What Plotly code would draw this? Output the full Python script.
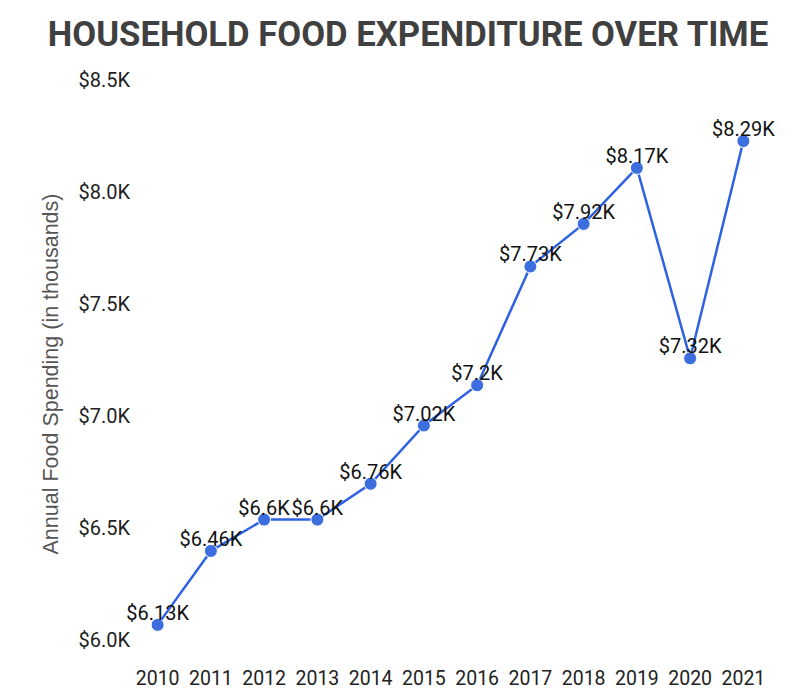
import plotly.graph_objects as go

years = [2010, 2011, 2012, 2013, 2014, 2015, 2016, 2017, 2018, 2019, 2020, 2021]
spending_k = [6.13, 6.46, 6.6, 6.6, 6.76, 7.02, 7.2, 7.73, 7.92, 8.17, 7.32, 8.29]
point_labels = ["$6.13K", "$6.46K", "$6.6K", "$6.6K", "$6.76K", "$7.02K", "$7.2K",
                "$7.73K", "$7.92K", "$8.17K", "$7.32K", "$8.29K"]
y_ticks = [6.0, 6.5, 7.0, 7.5, 8.0, 8.5]
y_tick_labels = ["$6.0K", "$6.5K", "$7.0K", "$7.5K", "$8.0K", "$8.5K"]

fig = go.Figure()
fig.add_trace(go.Scatter(
    x=years, y=spending_k, mode="lines+markers",
    line=dict(color="#2f62e3", width=2.5),
    marker=dict(color="#3d6ee0", size=13, line=dict(color="white", width=1)),
    cliponaxis=False, hoverinfo="skip",
))
fig.add_trace(go.Scatter(
    x=years, y=spending_k, mode="text",
    text=point_labels, textposition="top center",
    textfont=dict(family="Roboto", size=20, color="#111111"),
    cliponaxis=False, hoverinfo="skip",
))

fig.update_layout(
    width=800, height=689,
    paper_bgcolor="white", plot_bgcolor="white",
    margin=dict(l=123, r=38, t=86, b=43),
    showlegend=False,
    title=dict(text="<b>HOUSEHOLD FOOD EXPENDITURE OVER TIME</b>",
               x=0.5, xanchor="center", y=1 - 26 / 689, yanchor="middle",
               font=dict(family="Roboto", size=34.7, color="#404040")),
    font=dict(family="Roboto"),
)
fig.update_xaxes(
    range=[2009.5, 2021.5], tickvals=years, ticktext=[str(y) for y in years],
    showgrid=False, zeroline=False, showline=False, ticks="",
    tickfont=dict(family="Roboto", size=19.5, color="#222222"),
    ticklabelstandoff=10, automargin=False,
)
fig.update_yaxes(
    range=[6.0, 8.5], tickvals=y_ticks, ticktext=y_tick_labels,
    showgrid=False, zeroline=False, showline=False, ticks="",
    ticklabelposition="outside top",
    tickfont=dict(family="Roboto", size=20, color="#222222"),
    title=dict(text="Annual Food Spending (in thousands)",
               font=dict(family="Liberation Sans", size=21.5, color="#555555"), standoff=13),
    automargin=False,
)

fig.write_html("out.html")
